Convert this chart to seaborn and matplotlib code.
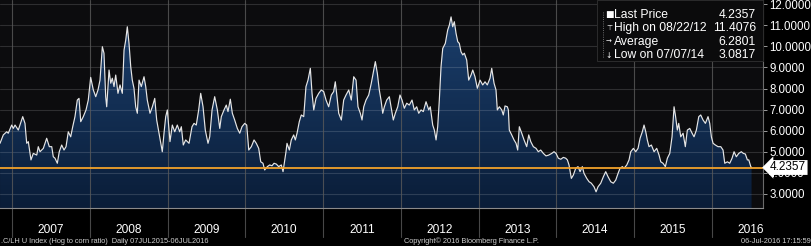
import numpy as np
import pandas as pd
import matplotlib
matplotlib.use("Agg")
import matplotlib.pyplot as plt
import matplotlib.transforms as mtransforms
from matplotlib.patches import Polygon, Rectangle
from matplotlib.lines import Line2D
from matplotlib.colors import LinearSegmentedColormap
import seaborn as sns

# ---------------- data (decimal year, hog/corn ratio) ----------------
dates = [
    2006.846, 2006.888, 2006.932, 2006.952, 2006.996, 2007.017, 2007.039, 2007.081, 2007.138, 2007.167,
    2007.189, 2007.210, 2007.244, 2007.274, 2007.318, 2007.338, 2007.360, 2007.403, 2007.446, 2007.480,
    2007.511, 2007.531, 2007.553, 2007.583, 2007.608, 2007.639, 2007.669, 2007.695, 2007.724, 2007.755,
    2007.781, 2007.810, 2007.840, 2007.862, 2007.884, 2007.917, 2007.952, 2007.981, 2008.012, 2008.046,
    2008.077, 2008.106, 2008.132, 2008.162, 2008.183, 2008.205, 2008.218, 2008.248, 2008.270, 2008.290,
    2008.312, 2008.334, 2008.363, 2008.389, 2008.419, 2008.441, 2008.463, 2008.483, 2008.505, 2008.527,
    2008.547, 2008.569, 2008.591, 2008.612, 2008.634, 2008.663, 2008.698, 2008.720, 2008.740, 2008.775,
    2008.805, 2008.836, 2008.861, 2008.891, 2008.913, 2008.933, 2008.955, 2008.977, 2008.998, 2009.032,
    2009.062, 2009.093, 2009.126, 2009.157, 2009.178, 2009.203, 2009.234, 2009.277,
    2009.315, 2009.341, 2009.370, 2009.401, 2009.427, 2009.457, 2009.486, 2009.521, 2009.543, 2009.573,
    2009.607, 2009.641, 2009.672, 2009.692, 2009.727, 2009.756, 2009.778, 2009.808, 2009.834, 2009.864,
    2009.898, 2009.929, 2009.958, 2009.993, 2010.019, 2010.045, 2010.078, 2010.113, 2010.142, 2010.173,
    2010.199, 2010.228, 2010.250, 2010.284, 2010.315, 2010.344, 2010.370, 2010.400, 2010.430, 2010.464,
    2010.486,
    2010.524, 2010.537, 2010.567, 2010.592, 2010.623, 2010.644, 2010.666, 2010.695, 2010.721, 2010.752,
    2010.781, 2010.807, 2010.837, 2010.859, 2010.881, 2010.910, 2010.945, 2010.978, 2011.009, 2011.039,
    2011.073, 2011.107, 2011.137, 2011.158, 2011.180, 2011.202, 2011.236, 2011.266, 2011.296, 2011.331,
    2011.364, 2011.395, 2011.425, 2011.450, 2011.480, 2011.502, 2011.524, 2011.553, 2011.588, 2011.621,
    2011.652, 2011.673, 2011.699,
    2011.724, 2011.746, 2011.768, 2011.789, 2011.819, 2011.853, 2011.875, 2011.904, 2011.930, 2011.961,
    2011.990, 2012.016, 2012.046, 2012.077, 2012.110, 2012.145, 2012.174, 2012.205, 2012.231, 2012.261,
    2012.290, 2012.325, 2012.360, 2012.380, 2012.411, 2012.432, 2012.454, 2012.475, 2012.496, 2012.518,
    2012.540, 2012.573, 2012.604, 2012.625, 2012.647, 2012.668, 2012.689, 2012.711, 2012.733, 2012.753,
    2012.775, 2012.797, 2012.818, 2012.848, 2012.874, 2012.904,
    2012.926, 2012.955, 2012.985, 2013.020, 2013.054, 2013.084, 2013.113, 2013.148, 2013.170, 2013.200,
    2013.225, 2013.242, 2013.268, 2013.299, 2013.319, 2013.341, 2013.371, 2013.384, 2013.396, 2013.427,
    2013.457, 2013.483, 2013.504, 2013.525, 2013.556, 2013.586, 2013.620, 2013.646, 2013.672, 2013.705,
    2013.740, 2013.769, 2013.800, 2013.834, 2013.868, 2013.903, 2013.942, 2013.971, 2013.997, 2014.027,
    2014.058, 2014.091,
    2014.122, 2014.143, 2014.164, 2014.194, 2014.220, 2014.250, 2014.280, 2014.306, 2014.335, 2014.357,
    2014.392, 2014.422, 2014.451, 2014.486, 2014.512, 2014.537, 2014.572, 2014.606, 2014.636, 2014.666,
    2014.701, 2014.734, 2014.765, 2014.795, 2014.820, 2014.850, 2014.872, 2014.907, 2014.936, 2014.958,
    2014.992, 2015.022, 2015.052, 2015.078, 2015.107, 2015.129, 2015.151, 2015.171, 2015.193, 2015.223,
    2015.258, 2015.292, 2015.322,
    2015.344, 2015.373, 2015.403, 2015.429, 2015.460, 2015.489, 2015.515, 2015.532, 2015.557, 2015.575,
    2015.601, 2015.631, 2015.660, 2015.686, 2015.717, 2015.747, 2015.772, 2015.802, 2015.833, 2015.858,
    2015.888, 2015.918, 2015.952, 2015.974, 2015.995, 2016.017, 2016.046, 2016.081, 2016.116, 2016.145,
    2016.167, 2016.201, 2016.231, 2016.261, 2016.287, 2016.316, 2016.347, 2016.380, 2016.406, 2016.432,
    2016.458, 2016.476, 2016.502, 2016.512,
]
values = [
    5.39, 5.79, 5.94, 5.87, 6.26, 6.10, 6.26, 6.02, 6.66, 6.34,
    5.39, 5.47, 4.60, 4.91, 4.83, 5.23, 4.99, 5.15, 5.63, 5.23,
    5.23, 4.75, 4.68, 4.44, 4.99, 5.31, 5.07, 5.23, 5.94, 5.70,
    6.18, 6.66, 7.45, 7.53, 6.42, 6.66, 6.98, 7.45, 8.53, 7.93,
    7.61, 7.93, 8.40, 9.99, 9.68, 7.61, 7.13, 8.88, 8.25, 8.49,
    8.09, 8.64, 7.77, 8.17, 7.77, 9.83, 10.31, 10.94, 10.15, 9.04,
    8.40, 8.01, 7.13, 6.82, 8.40, 8.09, 8.56, 8.09, 7.45, 6.82,
    7.13, 7.53, 6.50, 5.87, 5.39, 4.99, 5.87, 6.66, 6.98, 5.47,
    6.26, 5.94, 6.26, 5.94, 6.18, 5.31, 5.55, 5.39,
    6.18, 6.34, 6.26, 6.98, 7.77, 7.13, 6.02, 5.39, 5.70, 6.98,
    7.61, 6.98, 6.10, 6.66, 6.98, 7.21, 6.90, 7.49, 6.82, 6.50,
    6.10, 5.87, 6.18, 6.34, 6.26, 5.07, 5.23, 5.55, 5.39, 5.15,
    4.51, 4.44, 4.12, 4.28, 4.36, 4.32, 4.44, 4.40, 4.28, 4.36,
    4.04,
    4.99, 5.39, 5.07, 5.55, 5.79, 5.55, 5.87, 6.42, 6.74, 6.66,
    8.09, 8.40, 8.96, 7.77, 6.98, 7.53, 7.77, 7.93, 7.85, 7.45,
    7.13, 7.69, 7.85, 8.32, 7.61, 6.82, 6.50, 7.45, 7.69, 7.93,
    7.45, 8.56, 8.40, 7.13, 6.82, 6.50, 7.13, 7.45, 7.69, 8.25,
    8.88, 9.28, 8.72,
    7.93, 7.45, 6.82, 7.13, 7.45, 7.61, 7.13, 6.50, 6.82, 7.13,
    7.69, 7.45, 7.06, 7.30, 7.21, 7.45, 6.98, 7.13, 6.82, 6.98,
    6.90, 7.37, 6.98, 7.13, 6.26, 6.02, 5.55, 6.18, 7.45, 9.04,
    9.91, 10.15, 10.79, 11.02, 11.41, 10.94, 11.18, 10.63, 10.23, 10.15,
    9.75, 9.60, 9.68, 9.36, 8.40, 8.64,
    8.88, 8.56, 8.01, 8.40, 8.17, 8.32, 8.17, 8.49, 8.96, 8.25,
    7.93, 6.98, 7.13, 6.98, 6.74, 7.17, 7.13, 6.98, 6.02, 5.79,
    5.55, 5.39, 5.07, 6.18, 5.87, 5.55, 5.23, 5.79, 5.47, 5.23,
    5.15, 4.99, 5.07, 4.91, 4.79, 4.83, 4.91, 4.99, 4.91, 4.68,
    4.63, 4.72,
    4.68, 4.60, 4.36, 3.72, 3.88, 4.20, 4.28, 4.04, 4.28, 3.96,
    3.72, 3.56, 3.49, 3.32, 3.08, 3.32, 3.49, 3.80, 4.04, 3.80,
    3.56, 3.49, 3.64, 3.96, 4.20, 4.28, 4.20, 4.36, 4.60, 4.99,
    5.15, 4.99, 5.15, 5.63, 5.94, 6.26, 5.94, 5.55, 5.23, 5.31,
    4.99, 5.15, 4.83,
    4.51, 4.44, 4.28, 4.68, 4.91, 5.70, 7.13, 6.74, 6.02, 6.34,
    5.70, 5.87, 5.23, 6.02, 6.10, 5.87, 5.70, 6.02, 6.66, 6.74,
    6.50, 6.34, 6.66, 6.34, 5.70, 5.39, 5.31, 5.23, 5.23, 5.07,
    4.44, 4.51, 4.44, 4.68, 4.99, 4.75, 4.91, 4.99, 4.91, 4.88,
    4.60, 4.60, 4.28, 4.2357,
]
years = list(range(2007, 2017))
y_ticks = [3, 4, 5, 6, 7, 8, 9, 10, 11, 12]
last_price = 4.2357
stat_names = ["Last Price", "High on 08/22/12", "Average", "Low on 07/07/14"]
stat_values = ["4.2357", "11.4076", "6.2801", "3.0817"]
footer_left = ".C/LH U Index (Hog to corn ratio)  Daily 07JUL2015-06JUL2016"
footer_mid = "Copyright\u00a9 2016 Bloomberg Finance L.P."
footer_right = "06-Jul-2016 17:15:59"

# ---------------- style ----------------
sns.set_style("dark")
plt.rcParams["font.family"] = ["Liberation Sans", "DejaVu Sans"]

W, H = 812, 246
fig = plt.figure(figsize=(W / 100, H / 100), dpi=100, facecolor="black")
ax = fig.add_axes([0, 1 - 208 / H, 763 / W, 208 / H])
ax.set_facecolor("#0c0c0e")

XMIN, XMAX = 2006.8457, 2016.659
YMIN, YMAX = 2.31, 12.214

df = pd.DataFrame({"date": dates, "ratio": values})

# gradient area fill clipped to the series
cmap = LinearSegmentedColormap.from_list("bb", ["#0a1d38", "#1c4170"])
grad = np.linspace(1, 0, 256).reshape(-1, 1)
im = ax.imshow(grad, aspect="auto", cmap=cmap, extent=[XMIN, XMAX, YMIN, YMAX],
               origin="upper", zorder=1, interpolation="bilinear")
verts = np.column_stack([list(df["date"]) + [dates[-1], dates[0]],
                         list(df["ratio"]) + [YMIN, YMIN]])
clip = Polygon(verts, closed=True, fc="none", ec="none", transform=ax.transData)
ax.add_patch(clip)
im.set_clip_path(clip)

sns.lineplot(data=df, x="date", y="ratio", ax=ax, color="#e6e6e6", lw=0.85, zorder=4)
ax.axhline(last_price, color="#f2a22a", lw=1.3, zorder=5)

ax.set_xlim(XMIN, XMAX)
ax.set_ylim(YMIN, YMAX)
ax.set_xlabel("")
ax.set_ylabel("")

# horizontal grid
for yv in y_ticks:
    ax.axhline(yv, color="white", alpha=0.14, lw=0.8, zorder=2)
# vertical year separators, extended into the label band
for yr in years:
    ax.axvline(yr, ymin=-0.14, ymax=1, color="#5a5a5a", alpha=0.8, lw=0.8,
               zorder=2, clip_on=False)

# x axis: quarter minor ticks, year labels between separators
ax.set_xticks([])
ax.set_xticks([yr + q / 4 for yr in range(2006, 2017) for q in range(4)
               if XMIN < yr + q / 4 < XMAX], minor=True)
ax.tick_params(axis="x", which="minor", direction="out", length=2.5, color="#9a9a9a", width=0.7)
tr = mtransforms.blended_transform_factory(ax.transData, ax.transAxes)
for yr in years:
    ax.text(yr + 0.5, -22 / 208, str(yr), transform=tr, ha="center", va="center",
            color="white", fontsize=8.6, clip_on=False)

# right y axis
ax.yaxis.tick_right()
ax.set_yticks(y_ticks)
ax.set_yticklabels([f"{t:.4f}" for t in y_ticks])
ax.tick_params(axis="y", which="major", direction="out", length=3, width=0.7, color="#9a9a9a",
               labelcolor="white", labelsize=8.3, pad=1.5, right=True, left=False)
ax.grid(False)
for s in ["left", "top"]:
    ax.spines[s].set_visible(False)
ax.spines["right"].set_color("#6a6a6a")
ax.spines["bottom"].set_color("#8a8a8a")
ax.spines["right"].set_linewidth(0.8)
ax.spines["bottom"].set_linewidth(0.8)

# last price tag
fig.text(770 / W, 1 - 167.5 / H, f"{last_price:.4f}", color="black", fontsize=8.5,
         ha="left", va="center", zorder=10,
         bbox=dict(boxstyle="larrow,pad=0.12", fc="white", ec="none"))

# legend box
fig.add_artist(Rectangle((597 / W, 1 - 61 / H), (763 - 597) / W, 61 / H,
                         transform=fig.transFigure, fc="#0b0b0c", ec="#2c2c2c", lw=0.7, zorder=6))
fig.add_artist(Line2D([603 / W, 603 / W], [1 - 12 / H, 1 - 57 / H], transform=fig.transFigure,
                      color="#8a8a8a", lw=0.6, ls=":", zorder=7))
rows_y = [15, 28, 42, 55]
markers = ["\u25a0", "\u22a4", "\u2192", "\u2193"]
msizes = [6.5, 5, 5, 5.5]
for name, val, ry, mk, ms in zip(stat_names, stat_values, rows_y, markers, msizes):
    fy = 1 - ry / H
    fig.text(609 / W, fy, mk, color="white", fontsize=ms, ha="center", va="center", zorder=8,
             family=["DejaVu Sans"])
    fig.text(614 / W, fy, name, color="white", fontsize=8.7, ha="left", va="center", zorder=8)
    fig.text(756 / W, fy, val, color="white", fontsize=8.7, ha="right", va="center", zorder=8)

# footer
fy = 1 - 241.5 / H
fig.text(1 / W, fy, footer_left, color="#d0d0d0", fontsize=5.3, ha="left", va="center")
fig.text(471 / W, fy, footer_mid, color="#d0d0d0", fontsize=5.3, ha="center", va="center")
fig.text(811 / W, fy, footer_right, color="#d0d0d0", fontsize=5.3, ha="right", va="center")

fig.savefig("out.png", dpi=100, facecolor="black")
